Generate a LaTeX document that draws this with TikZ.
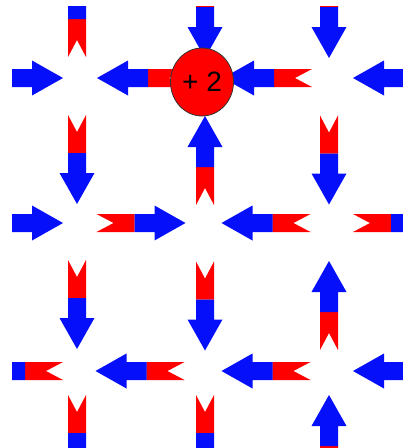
\documentclass[tikz,border=0pt]{standalone}
\usepackage{fontspec}
\setsansfont{Liberation Sans}
\usepackage{tikz}
\usetikzlibrary{shapes.geometric}
\definecolor{spinred}{RGB}{255,0,0}
\definecolor{spinblue}{RGB}{5,15,250}

\begin{document}
\begin{tikzpicture}[x=1pt,y=-1pt,
    spin/.pic={
        \fill[spinred] (-44.5,9)--(-6.4,9)--(-6.4,-9)--(-44.5,-9)--(-27.5,0)--cycle;
        \fill[spinblue] (-6.5,9)--(13.5,9)--(13.5,17.5)--(44.5,0)--(13.5,-17.5)--(13.5,-9)--(-6.5,-9)--cycle;},
    charge/.style={ellipse,draw=black!80,line width=.8pt,fill=spinred,
        minimum width=63pt,minimum height=68pt,inner sep=0pt,
        font=\sffamily\fontsize{28}{28}\selectfont}]
\useasboundingbox (0,0) rectangle (403,448);
\clip (12,6) rectangle (403,448);
\foreach \x/\y/\a in {18.5/78/0,141.5/78/180,267.5/78/180,397.5/78/180,
    18.5/223/0,141/223/0,266/223/180,397.5/223/0,
    18.5/371/180,140/371/180,266/371/180,397.5/371/180}
    \pic[rotate=\a] at (\x,\y) {spin};
\foreach \x/\y/\a in {77/12.5/90,77/159.5/270,77/304.5/270,77/439.5/270,
    205/13.5/270,205/160.5/90,205/306/270,205/439.5/270,
    329/13.5/270,329/160/270,329/305.5/90,329/439.5/90}
    \pic[rotate=\a] at (\x,\y) {spin};
\node[charge] (charge) at (202,82) {+ 2};
\end{tikzpicture}
\end{document}
